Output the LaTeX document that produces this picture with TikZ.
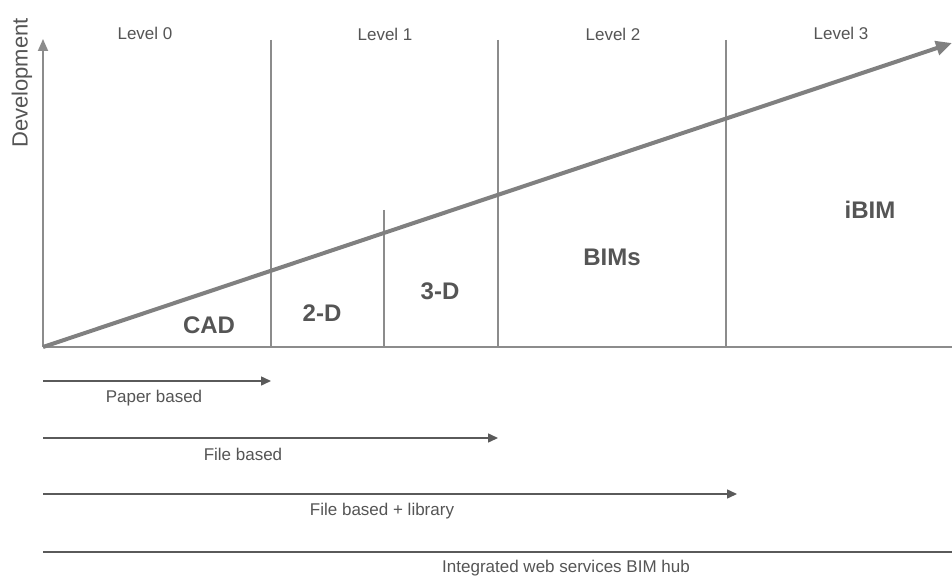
\documentclass[tikz,border=0pt]{standalone}
\usepackage{fontspec}
\setmainfont{Liberation Sans}
\usetikzlibrary{arrows.meta}
\definecolor{axisgray}{HTML}{8C8C8C}
\definecolor{diaggray}{HTML}{808080}
\definecolor{darkline}{HTML}{5A5A5A}
\definecolor{txtgray}{HTML}{555555}
\tikzset{
  vline/.style={draw=axisgray, line width=1.6pt},
  baseline/.style={draw=axisgray, line width=1.8pt},
  scopearrow/.style={draw=darkline, line width=1.5pt, -{Triangle[length=10pt,width=9pt]}},
  lvl/.style={font=\fontsize{17}{20}\selectfont, text=txtgray, inner sep=0pt},
  lab/.style={font=\fontsize{17}{20}\selectfont, text=txtgray, inner sep=0pt},
  big/.style={font=\fontsize{24}{28}\selectfont\bfseries, text=txtgray, inner sep=0pt},
}
\begin{document}
\begin{tikzpicture}[x=1pt,y=-1pt]
\useasboundingbox[fill=white] (0,0) rectangle (952,577);
% key coordinates
\coordinate (O) at (43,347);
\coordinate (Ytop) at (43,39);
\coordinate (Xend) at (952,347);
\coordinate (Dtip) at (952,43);
\coordinate (v1t) at (271,40); \coordinate (v1b) at (271,347);
\coordinate (v2t) at (384,210); \coordinate (v2b) at (384,347);
\coordinate (v3t) at (498,40); \coordinate (v3b) at (498,347);
\coordinate (v4t) at (726,40); \coordinate (v4b) at (726,347);
% level separators
\draw[vline] (v1t) -- (v1b);
\draw[vline] (v2t) -- (v2b);
\draw[vline] (v3t) -- (v3b);
\draw[vline] (v4t) -- (v4b);
% axes
\draw[baseline] (O) -- (Xend);
\draw[draw=axisgray, line width=1.8pt, -{Triangle[length=12pt,width=10pt]}] (O) -- (Ytop);
% diagonal development arrow
\draw[draw=diaggray, line width=4pt, -{Triangle[length=16pt,width=14pt]}] (O) -- (Dtip);
% texts
\node[lab, rotate=90, font=\fontsize{22}{26}\selectfont] (dev) at (22,83) {Development};
\node[lvl] (l0) at (145,33) {Level 0};
\node[lvl] (l1) at (385,34) {Level 1};
\node[lvl] (l2) at (613,34) {Level 2};
\node[lvl] (l3) at (841,33) {Level 3};
\node[big] (cad) at (209,325) {CAD};
\node[big] (twod) at (322,313) {2-D};
\node[big] (threed) at (440,291) {3-D};
\node[big] (bims) at (612,257) {BIMs};
\node[big] (ibim) at (870,210) {iBIM};
% bottom scope arrows
\coordinate (p0) at (43,381); \coordinate (p1) at (271,381);
\coordinate (f0) at (43,438); \coordinate (f1) at (498,438);
\coordinate (fl0) at (43,494); \coordinate (fl1) at (737,494);
\coordinate (w0) at (43,552); \coordinate (w1) at (952,552);
\draw[scopearrow] (p0) -- (p1);
\draw[scopearrow] (f0) -- (f1);
\draw[scopearrow] (fl0) -- (fl1);
\draw[draw=darkline, line width=1.5pt] (w0) -- (w1);
\node[lab] (paper) at (154,398) {Paper based};
\node[lab] (file) at (243,454) {File based};
\node[lab] (filelib) at (382,511) {File based + library};
\node[lab] (web) at (566,568) {Integrated web services BIM hub};
\end{tikzpicture}
\end{document}
